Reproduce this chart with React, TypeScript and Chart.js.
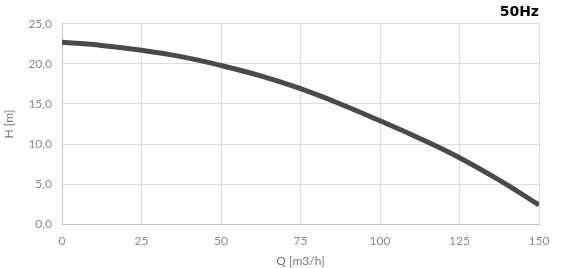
import React, { useEffect, useRef } from "react";
import { Chart, registerables } from "chart.js";

Chart.register(...registerables);

const flowQ = [0, 12.5, 25, 37.5, 50, 62.5, 75, 87.5, 100, 112.5, 125, 137.5, 150];
const headH = [22.7, 22.3, 21.7, 20.9, 19.8, 18.5, 16.9, 15.0, 12.9, 10.7, 8.3, 5.5, 2.4];
const xTicks = [0, 25, 50, 75, 100, 125, 150];
const yTicks = [0, 5, 10, 15, 20, 25];

export default function App() {
  const ref = useRef<HTMLCanvasElement | null>(null);
  useEffect(() => {
    if (!ref.current) return;
    const chart = new Chart(ref.current, {
      type: "line",
      data: {
        datasets: [
          {
            data: flowQ.map((q, i) => ({ x: q, y: headH[i] })),
            borderColor: "#4a4a4a",
            borderWidth: 5,
            pointRadius: 0,
            tension: 0.4,
            fill: false,
          },
        ],
      },
      options: {
        animation: false,
        responsive: false,
        layout: { padding: { top: 1, right: 30, bottom: 0, left: 2 } },
        plugins: {
          legend: { display: false },
          tooltip: { enabled: false },
          title: {
            display: true,
            text: "50Hz",
            align: "end",
            color: "#000",
            font: { family: "DejaVu Sans", size: 14, weight: "bold" },
            padding: { top: 3, bottom: 3 },
          },
        },
        scales: {
          x: {
            type: "linear",
            min: 0,
            max: 150,
            afterBuildTicks: (axis: any) => {
              axis.ticks = xTicks.map((v) => ({ value: v }));
            },
            ticks: {
              color: "#8a8a8a",
              font: { family: "Lato", size: 12 },
              padding: 10,
              maxRotation: 0,
            },
            grid: { color: "#dedede", drawTicks: false },
            border: { color: "#c4c4c4" },
            title: {
              display: true,
              text: "Q [m3/h]",
              color: "#777",
              font: { family: "Lato", size: 12 },
              padding: { top: -5, bottom: 0 },
            },
          },
          y: {
            type: "linear",
            min: 0,
            max: 25,
            afterBuildTicks: (axis: any) => {
              axis.ticks = yTicks.map((v) => ({ value: v }));
            },
            ticks: {
              color: "#8a8a8a",
              font: { family: "Lato", size: 12 },
              padding: 10,
              callback: (v: any) => Number(v).toFixed(1).replace(".", ","),
            },
            grid: { color: "#dedede", drawTicks: false },
            border: { color: "#c4c4c4" },
            title: {
              display: true,
              text: "H [m]",
              color: "#777",
              font: { family: "Lato", size: 12 },
              padding: { top: 0, bottom: 2 },
            },
          },
        },
      },
    });
    return () => chart.destroy();
  }, []);
  return (
    <div style={{ position: "fixed", left: 0, top: 0, width: 569, height: 268, background: "#fff" }}>
      <canvas ref={ref} width={569} height={268} style={{ width: 569, height: 268 }} />
    </div>
  );
}
